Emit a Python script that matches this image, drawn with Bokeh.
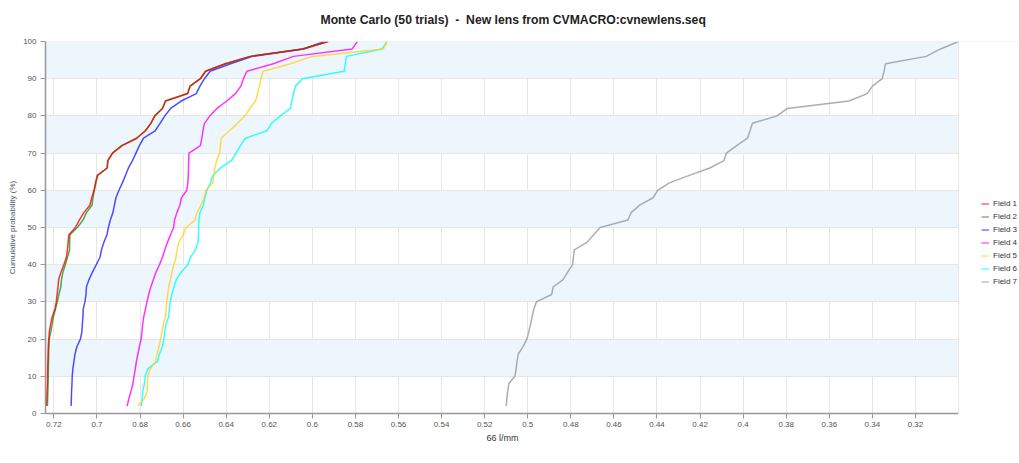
from bokeh.plotting import figure
from bokeh.models import (Range1d, Legend, LegendItem, FixedTicker, CustomJSTickFormatter,
                          BoxAnnotation, Span)
from bokeh.embed import file_html
from bokeh.resources import INLINE

cum_prob = list(range(2, 101, 2))

field1 = [0.7235, 0.7233, 0.7232, 0.7230, 0.7230, 0.7229, 0.7228, 0.7227, 0.7226, 0.7224,
          0.7221, 0.7215, 0.7208, 0.7195, 0.7189, 0.7185, 0.7181, 0.7178, 0.7167, 0.7154,
          0.7142, 0.7137, 0.7134, 0.7131, 0.7100, 0.7082, 0.7061, 0.7033, 0.7024, 0.7014,
          0.7007, 0.6999, 0.6953, 0.6950, 0.6928, 0.6883, 0.6815, 0.6775, 0.6750, 0.6732,
          0.6696, 0.6682, 0.6579, 0.6568, 0.6520, 0.6496, 0.6404, 0.6288, 0.6042, 0.5926]
field2 = [0.7230, 0.7229, 0.7228, 0.7227, 0.7226, 0.7226, 0.7225, 0.7224, 0.7223, 0.7222,
          0.7214, 0.7208, 0.7202, 0.7193, 0.7184, 0.7177, 0.7168, 0.7165, 0.7158, 0.7147,
          0.7137, 0.7127, 0.7127, 0.7126, 0.7091, 0.7065, 0.7049, 0.7023, 0.7019, 0.7012,
          0.7005, 0.6996, 0.6952, 0.6949, 0.6928, 0.6886, 0.6817, 0.6775, 0.6750, 0.6731,
          0.6696, 0.6682, 0.6579, 0.6568, 0.6520, 0.6496, 0.6404, 0.6288, 0.6047, 0.5930]
field3 = [0.7120, 0.7119, 0.7118, 0.7116, 0.7115, 0.7112, 0.7107, 0.7102, 0.7093, 0.7077,
          0.7070, 0.7068, 0.7065, 0.7064, 0.7056, 0.7051, 0.7049, 0.7037, 0.7021, 0.7003,
          0.6986, 0.6979, 0.6968, 0.6954, 0.6947, 0.6938, 0.6926, 0.6919, 0.6912, 0.6898,
          0.6882, 0.6868, 0.6854, 0.6835, 0.6819, 0.6803, 0.6784, 0.6730, 0.6707, 0.6685,
          0.6658, 0.6609, 0.6539, 0.6522, 0.6501, 0.6475, 0.6380, 0.6278, 0.6042, 0.5944]
field4 = [0.6860, 0.6852, 0.6842, 0.6833, 0.6828, 0.6822, 0.6817, 0.6810, 0.6803, 0.6795,
          0.6791, 0.6788, 0.6783, 0.6775, 0.6768, 0.6760, 0.6750, 0.6738, 0.6726, 0.6710,
          0.6696, 0.6685, 0.6673, 0.6659, 0.6644, 0.6640, 0.6629, 0.6615, 0.6608, 0.6583,
          0.6578, 0.6576, 0.6575, 0.6574, 0.6573, 0.6520, 0.6513, 0.6508, 0.6501, 0.6476,
          0.6443, 0.6397, 0.6357, 0.6332, 0.6320, 0.6304, 0.6181, 0.6088, 0.5815, 0.5791]
field5 = [0.6810, 0.6780, 0.6767, 0.6766, 0.6764, 0.6752, 0.6728, 0.6721, 0.6712, 0.6705,
          0.6698, 0.6692, 0.6682, 0.6679, 0.6676, 0.6672, 0.6667, 0.6659, 0.6652, 0.6643,
          0.6633, 0.6629, 0.6620, 0.6600, 0.6587, 0.6545, 0.6536, 0.6517, 0.6503, 0.6494,
          0.6462, 0.6457, 0.6452, 0.6445, 0.6430, 0.6427, 0.6423, 0.6385, 0.6348, 0.6313,
          0.6290, 0.6264, 0.6255, 0.6246, 0.6239, 0.6229, 0.6102, 0.6000, 0.5670, 0.5653]
field6 = [0.6794, 0.6790, 0.6787, 0.6780, 0.6776, 0.6764, 0.6719, 0.6710, 0.6696, 0.6690,
          0.6685, 0.6680, 0.6667, 0.6664, 0.6660, 0.6652, 0.6643, 0.6631, 0.6610, 0.6578,
          0.6566, 0.6543, 0.6531, 0.6529, 0.6528, 0.6527, 0.6522, 0.6506, 0.6499, 0.6490,
          0.6473, 0.6462, 0.6427, 0.6376, 0.6355, 0.6334, 0.6311, 0.6211, 0.6190, 0.6148,
          0.6102, 0.6095, 0.6088, 0.6079, 0.6046, 0.5853, 0.5847, 0.5842, 0.5676, 0.5653]
field7 = [0.5100, 0.5097, 0.5093, 0.5088, 0.5060, 0.5054, 0.5050, 0.5044, 0.5022, 0.5004,
          0.4995, 0.4987, 0.4980, 0.4972, 0.4960, 0.4889, 0.4882, 0.4836, 0.4815, 0.4792,
          0.4788, 0.4784, 0.4725, 0.4695, 0.4664, 0.4535, 0.4520, 0.4480, 0.4418, 0.4397,
          0.4343, 0.4250, 0.4155, 0.4089, 0.4078, 0.4030, 0.3980, 0.3968, 0.3957, 0.3843,
          0.3794, 0.3509, 0.3424, 0.3400, 0.3354, 0.3346, 0.3339, 0.3150, 0.3084, 0.3000]

series_names = ["Field 1", "Field 2", "Field 3", "Field 4", "Field 5", "Field 6", "Field 7"]
series_values = [field1, field2, field3, field4, field5, field6, field7]
series_colors = ["#ff0000", "#1a9a1a", "#2020ff", "#ff00ff", "#ffd21f", "#00ffff", "#999999"]

x_ticks = [0.72, 0.70, 0.68, 0.66, 0.64, 0.62, 0.60, 0.58, 0.56, 0.54, 0.52, 0.50,
           0.48, 0.46, 0.44, 0.42, 0.40, 0.38, 0.36, 0.34, 0.32]
y_ticks = [0, 10, 20, 30, 40, 50, 60, 70, 80, 90, 100]

X_LEFT = 0.7239      # left end of the x axis
X_RIGHT = 0.30       # right end of the x axis
X_CANVAS = 0.2717    # extra room to the right (legend area)
Y_MIN, Y_MAX = 0, 100

FONT = "Liberation Sans"
NAN = float("nan")

p = figure(width=1019, height=463, output_backend="svg", toolbar_location=None,
           x_range=Range1d(X_LEFT, X_CANVAS), y_range=Range1d(Y_MIN, Y_MAX),
           min_border_left=45, min_border_right=0, min_border_top=41, min_border_bottom=50)

p.title.text = "Monte Carlo (50 trials) \u00a0-\u00a0 New lens from CVMACRO:cvnewlens.seq"
p.title.align = "left"
p.title.offset = 275
p.title.vertical_align = "top"
p.title.text_font = FONT
p.title.text_font_size = "12.2px"
p.title.text_font_style = "bold"
p.title.text_color = "#222222"
p.title.standoff = 25

p.outline_line_color = None
p.background_fill_color = "white"
p.border_fill_color = "white"

p.xaxis.ticker = FixedTicker(ticks=x_ticks)
p.xaxis.formatter = CustomJSTickFormatter(code="return String(Number(tick.toFixed(2)));")
p.xaxis.bounds = (X_LEFT, X_RIGHT)
p.yaxis.ticker = FixedTicker(ticks=y_ticks)

for ax in (p.xaxis[0], p.yaxis[0]):
    ax.axis_line_color = "#999999"
    ax.axis_line_width = 1.5
    ax.major_tick_line_color = "#999999"
    ax.major_tick_out = 5
    ax.major_tick_in = 0
    ax.minor_tick_line_color = None
    ax.major_label_text_font = FONT
    ax.major_label_text_font_size = "8px"
    ax.major_label_text_color = "#555555"
    ax.axis_label_text_font = FONT
    ax.axis_label_text_font_style = "normal"

# trailing no-break spaces keep the label centred under the visible axis part
p.xaxis.axis_label = "66 l/mm" + "\u00a0" * 24
p.xaxis.axis_label_text_font_size = "9px"
p.xaxis.axis_label_text_color = "#333333"
p.xaxis.axis_label_standoff = 3
p.xaxis.major_label_standoff = 3

p.yaxis.axis_label = "Cumulative probability (%)"
p.yaxis.axis_label_text_font_size = "8px"
p.yaxis.axis_label_text_color = "#445566"
p.yaxis.axis_label_standoff = 3
p.yaxis.major_label_standoff = 4

p.xgrid.ticker = FixedTicker(ticks=x_ticks)
p.ygrid.ticker = FixedTicker(ticks=[y_ticks[0] - 10] + y_ticks)
p.xgrid.grid_line_color = "#e6e6e6"
p.ygrid.grid_line_color = "#e6e6e6"
p.ygrid.band_fill_color = "#eef6fd"
p.ygrid.band_fill_alpha = 1.0

p.add_layout(Span(location=Y_MAX, dimension="width", line_color="#e6e6e6", line_width=1))

for name, vals, col in reversed(list(zip(series_names, series_values, series_colors))):
    p.line(vals, cum_prob, line_color=col, line_width=1.5, line_alpha=0.8)

# blank out the area right of the x axis end (legend area)
p.add_layout(BoxAnnotation(left=X_RIGHT, fill_color="white", fill_alpha=1.0, line_color=None))
p.add_layout(Span(location=X_RIGHT, dimension="height", line_color="#e6e6e6", line_width=1))

items = []
for name, col in zip(series_names, series_colors):
    sw = p.line([NAN], [NAN], line_color=col, line_width=2, line_alpha=0.45)
    items.append(LegendItem(label=name, renderers=[sw]))

legend = Legend(items=items, location=(936, 125), orientation="vertical",
                label_text_font=FONT, label_text_font_size="8px", label_text_color="#333333",
                glyph_width=8, glyph_height=13, label_height=13, label_standoff=4,
                spacing=0, padding=0, margin=0, border_line_color=None,
                background_fill_alpha=0.0)
p.add_layout(legend, "center")

open("out.html", "w").write(file_html(p, INLINE))
